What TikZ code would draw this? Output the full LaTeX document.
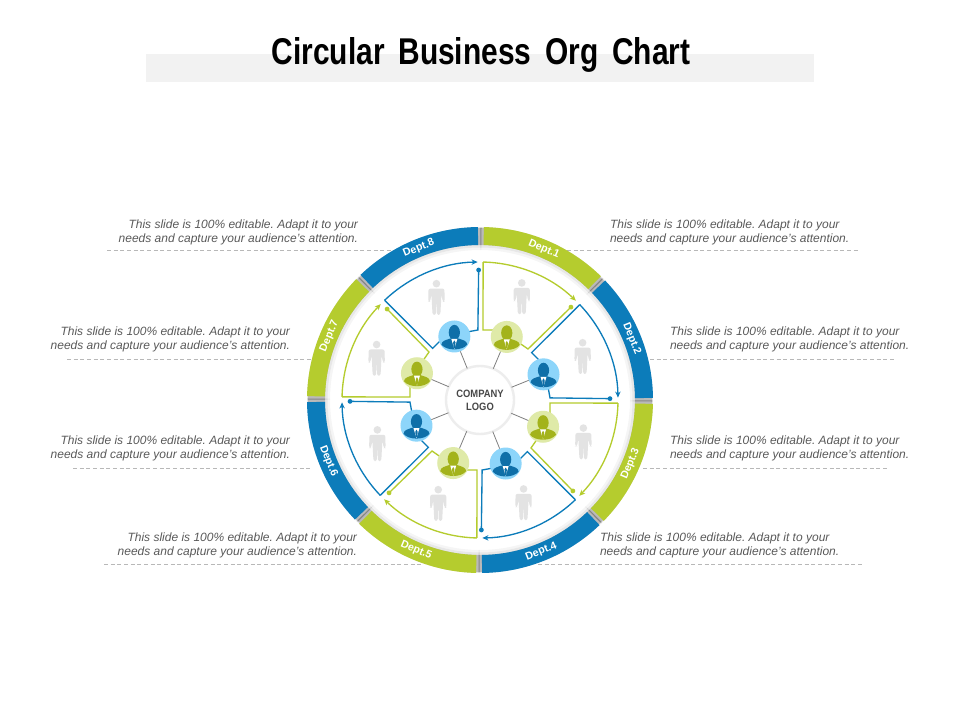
\documentclass[tikz,border=0pt]{standalone}
\usepackage{fontspec}
\usepackage{graphicx}
\setmainfont{Liberation Sans}
\frenchspacing
\usetikzlibrary{arrows.meta,shapes.geometric}
\definecolor{leaf}{HTML}{B5CC2E}
\definecolor{leafdark}{HTML}{A3B31B}
\definecolor{leaflight}{HTML}{DFEAA8}
\definecolor{sea}{HTML}{0C7CBA}
\definecolor{seadark}{HTML}{0F6FA8}
\definecolor{sealight}{HTML}{8DD5FA}
\definecolor{bartone}{HTML}{F2F2F2}
\definecolor{bodytone}{HTML}{595959}
\tikzset{
  blurb/.style={font=\fontsize{9pt}{10.5pt}\selectfont\itshape,text=bodytone,inner sep=0pt,outer sep=0pt},
  blurbl/.style={blurb,anchor=east,align=right},
  blurbr/.style={blurb,anchor=west,align=left},
  guide/.style={draw=black!28,line width=.5pt,dash pattern=on 3pt off 2pt},
  deptlabel/.style={font=\fontsize{8pt}{9pt}\selectfont\bfseries,text=white,inner sep=0pt},
  sectorline/.style={line width=1pt,line join=miter},
  flowarrow/.style={sectorline,-{Stealth[length=4.5pt,width=4pt]}},
  spoke/.style={draw=black!50,line width=.6pt},
  avatarbase/.style={circle,minimum size=24pt,inner sep=0pt,outer sep=0pt},
  pics/personfig/.style={code={
    \fill[black!11] (0,13.7) circle[radius=3.8];
    \fill[black!11,rounded corners=1.6pt] (-8,8.8) -- (-8.2,-4.5) -- (-6.4,-4.5) -- (-5,3) -- (-3.9,-17.5) -- (-.5,-17.5) -- (-.2,-5) -- (.2,-5) -- (.5,-17.5) -- (3.9,-17.5) -- (5,3) -- (6.4,-4.5) -- (8.2,-4.5) -- (8,8.8) -- cycle;
  }},
  pics/avatarfig/.style={code={
    \fill[#1] (0,4) ellipse[x radius=5.6,y radius=7.6];
    \fill[#1] (-13,-8) .. controls (-12.5,-4) and (-8,-3.5) .. (-4,-2) -- (4,-2) .. controls (8,-3.5) and (12.5,-4) .. (13,-8) .. controls (8,-14.6) and (-8,-14.6) .. (-13,-8) -- cycle;
    \fill[white] (-3,-2.5) -- (3,-2.5) -- (0,-12.5) -- cycle;
    \fill[#1] (0,-4) -- (1.2,-6) -- (.7,-11.5) -- (-.7,-11.5) -- (-1.2,-6) -- cycle;
  }}
}
\begin{document}
\begin{tikzpicture}[x=.75pt,y=-.75pt]
\useasboundingbox (0,0) rectangle (960,720);
% title
\fill[bartone] (146,54) rectangle (814,82);
\node[inner sep=0pt,outer sep=0pt,anchor=base] (title) at (481,64.5) {\resizebox{314pt}{20.25pt}{\bfseries Circular\hspace{.46em}Business\hspace{.46em}Org\hspace{.46em}Chart}};
% guides
\foreach \n/\xa/\xb/\yy in {a/107/393/250,b/67/312/359,c/73/312/468,d/104/423/564,e/567/860/250,f/650/895/359,g/643/887/468,h/538/862/564}{
  \coordinate (g\n1) at (\xa,\yy);
  \coordinate (g\n2) at (\xb,\yy);
  \draw[guide] (g\n1) -- (g\n2);
}
% texts
\node[blurbl] (t8) at (358,232) {This slide is 100\% editable. Adapt it to your\\needs and capture your audience's attention.};
\node[blurbl] (t7) at (290,339) {This slide is 100\% editable. Adapt it to your\\needs and capture your audience's attention.};
\node[blurbl] (t6) at (290,448) {This slide is 100\% editable. Adapt it to your\\needs and capture your audience's attention.};
\node[blurbl] (t5) at (357,545) {This slide is 100\% editable. Adapt it to your\\needs and capture your audience's attention.};
\node[blurbr] (t1) at (610,232) {This slide is 100\% editable. Adapt it to your\\needs and capture your audience's attention.};
\node[blurbr] (t2) at (670,339) {This slide is 100\% editable. Adapt it to your\\needs and capture your audience's attention.};
\node[blurbr] (t3) at (670,448) {This slide is 100\% editable. Adapt it to your\\needs and capture your audience's attention.};
\node[blurbr] (t4) at (600,545) {This slide is 100\% editable. Adapt it to your\\needs and capture your audience's attention.};
\begin{scope}[shift={(480,400)},y=.75pt]
  % white disc hides guides within the ring
  \fill[white] (0,0) circle[radius=152];
  % bands
  \foreach \k/\col/\tr in {1/leaf/-23,2/sea/-68,3/leaf/67,4/sea/22,5/leaf/-23,6/sea/-68,7/leaf/67,8/sea/22}{
    \pgfmathsetmacro\aa{88.7-45*(\k-1)}
    \pgfmathsetmacro\ab{\aa-43}
    \pgfmathsetmacro\sa{\aa+1.2}
    \pgfmathsetmacro\sb{\ab-1.2}
    \pgfmathsetmacro\am{67-45*(\k-1)}
    \fill[black,opacity=.04] (\sa:173) arc[start angle=\sa,end angle=\sb,radius=173] -- (\sb:150) arc[start angle=\sb,end angle=\sa,radius=150] -- cycle;
    \fill[black,opacity=.06] (\sa:173) arc[start angle=\sa,end angle=\sb,radius=173] -- (\sb:152.5) arc[start angle=\sb,end angle=\sa,radius=152.5] -- cycle;
    \fill[black,opacity=.20] (\sa:172) arc[start angle=\sa,end angle=\sb,radius=172] -- (\sb:155) arc[start angle=\sb,end angle=\sa,radius=155] -- cycle;
    \fill[\col] (\aa:173) arc[start angle=\aa,end angle=\ab,radius=173] -- (\ab:155) arc[start angle=\ab,end angle=\aa,radius=155] -- cycle;
    \node[deptlabel,rotate=\tr] (dept\k) at (\am:163.5) {Dept.\k};
  }
  % sector outlines
  \foreach \k/\col in {1/leaf,2/sea,3/leaf,4/sea,5/leaf,6/sea,7/leaf,8/sea}{
    \pgfmathsetmacro\rot{-45*(\k-1)}
    \begin{scope}[rotate=\rot]
      \coordinate (sa\k) at (88.7:138);
      \coordinate (sb\k) at (3,70);
      \coordinate (sc\k) at (15,70);
      \coordinate (sd\k) at (45.6:130);
      \coordinate (se\k) at (48,51);
      \coordinate (sf\k) at (35,60);
      \draw[flowarrow,draw=\col,fill=none] (sa\k) arc[start angle=88.7,end angle=46,radius=138];
      \draw[sectorline,draw=\col] (sa\k) -- (sb\k) -- (sc\k);
      \draw[sectorline,draw=\col] (sd\k) -- (se\k) -- (sf\k);
      \fill[\col] (sd\k) circle[radius=2.4];
    \end{scope}
    \pgfmathsetmacro\ap{68-45*(\k-1)}
    \pic at (\ap:111.5) {personfig};
  }
  % logo
  \node[circle,draw=black!7,line width=1.8pt,fill=white,minimum size=51pt,inner sep=0pt,outer sep=0pt,align=center,text=black!72,font=\fontsize{8pt}{9.8pt}\selectfont\bfseries] (logo) at (0,0) {\scalebox{.88}[1]{COMPANY}\\\scalebox{.88}[1]{LOGO}};
  % avatars
  \foreach \k/\fl/\dk in {1/leaflight/leafdark,2/sealight/seadark,3/leaflight/leafdark,4/sealight/seadark,5/leaflight/leafdark,6/sealight/seadark,7/leaflight/leafdark,8/sealight/seadark}{
    \pgfmathsetmacro\am{67-45*(\k-1)}
    \node[avatarbase,fill=\fl] (av\k) at (\am:68.5) {};
    \pic at (av\k) {avatarfig={\dk}};
    \draw[spoke] (logo) -- (av\k);
  }
\end{scope}
\end{tikzpicture}
\end{document}
